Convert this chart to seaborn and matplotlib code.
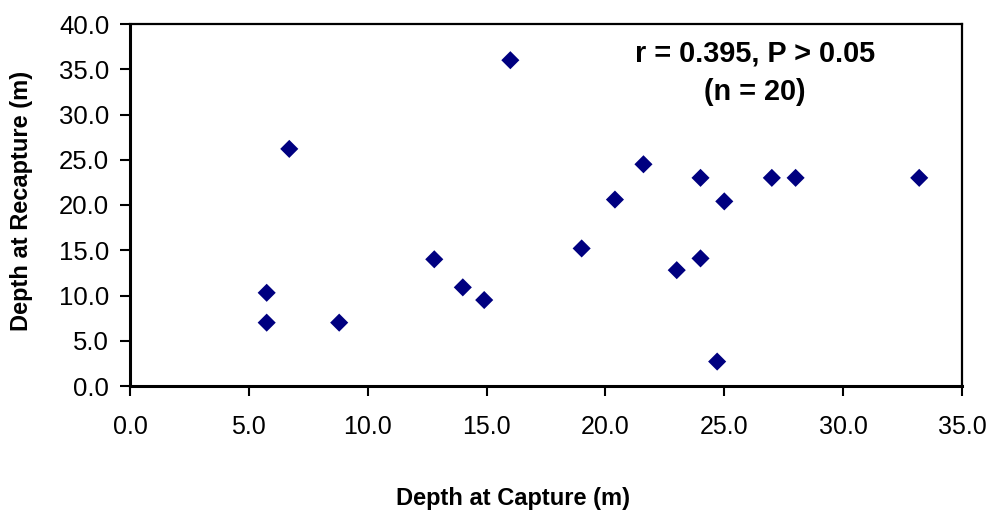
import numpy as np
import pandas as pd
import matplotlib
matplotlib.use("Agg")
import matplotlib.pyplot as plt
import seaborn as sns

# --- Data ---
capture_depth = [5.75, 5.75, 6.7, 8.8, 12.8, 14.0, 14.9, 16.0, 19.0, 20.4,
                 21.6, 23.0, 24.0, 24.0, 24.7, 25.0, 27.0, 28.0, 33.2]
recapture_depth = [7.0, 10.3, 26.2, 7.0, 14.0, 10.9, 9.5, 36.0, 15.2, 20.6,
                   24.5, 12.8, 14.1, 23.0, 2.7, 20.4, 23.0, 23.0, 23.0]
x_ticks = [0, 5, 10, 15, 20, 25, 30, 35]
y_ticks = [0, 5, 10, 15, 20, 25, 30, 35, 40]
stats_text = "r = 0.395, P > 0.05\n(n = 20)"

df = pd.DataFrame({"capture": capture_depth, "recapture": recapture_depth})

sns.set_style("ticks")
plt.rcParams['font.family'] = ['Liberation Sans', 'DejaVu Sans']
plt.rcParams.update({"text.color": "black", "axes.labelcolor": "black",
                     "xtick.color": "black", "ytick.color": "black"})

fig = plt.figure(figsize=(9.93, 5.12), dpi=100)
ax = fig.add_axes([130 / 993, 1 - 386 / 512, 832 / 993, 362 / 512])

sns.scatterplot(data=df, x="capture", y="recapture", marker="D", color="#000080",
                s=85, edgecolor="none", ax=ax)

ax.set_xlim(0, 35)
ax.set_ylim(0, 40)
ax.set_xticks(x_ticks)
ax.set_yticks(y_ticks)
ax.set_xticklabels([f"{v:.1f}" for v in x_ticks], fontsize=18)
ax.set_yticklabels([f"{v:.1f}" for v in y_ticks], fontsize=18.5)
ax.tick_params(axis="both", direction="out", length=7, width=1.5)
ax.tick_params(axis="x", pad=14)
ax.tick_params(axis="y", pad=8)

for side in ["left", "bottom"]:
    ax.spines[side].set_linewidth(2.2)
for side in ["top", "right"]:
    ax.spines[side].set_linewidth(1.6)
for sp in ax.spines.values():
    sp.set_color("black")

ax.set_xlabel("Depth at Capture (m)", fontsize=17, fontweight="bold")
ax.set_ylabel("Depth at Recapture (m)", fontsize=17, fontweight="bold")
ax.xaxis.set_label_coords(0.46, -0.279)
ax.yaxis.set_label_coords(-0.117, 0.51)

ax.text(26.3, 34.6, stats_text, ha="center", va="center", fontsize=20.8,
        fontweight="bold", linespacing=1.5)

fig.savefig("out.png", dpi=100)
